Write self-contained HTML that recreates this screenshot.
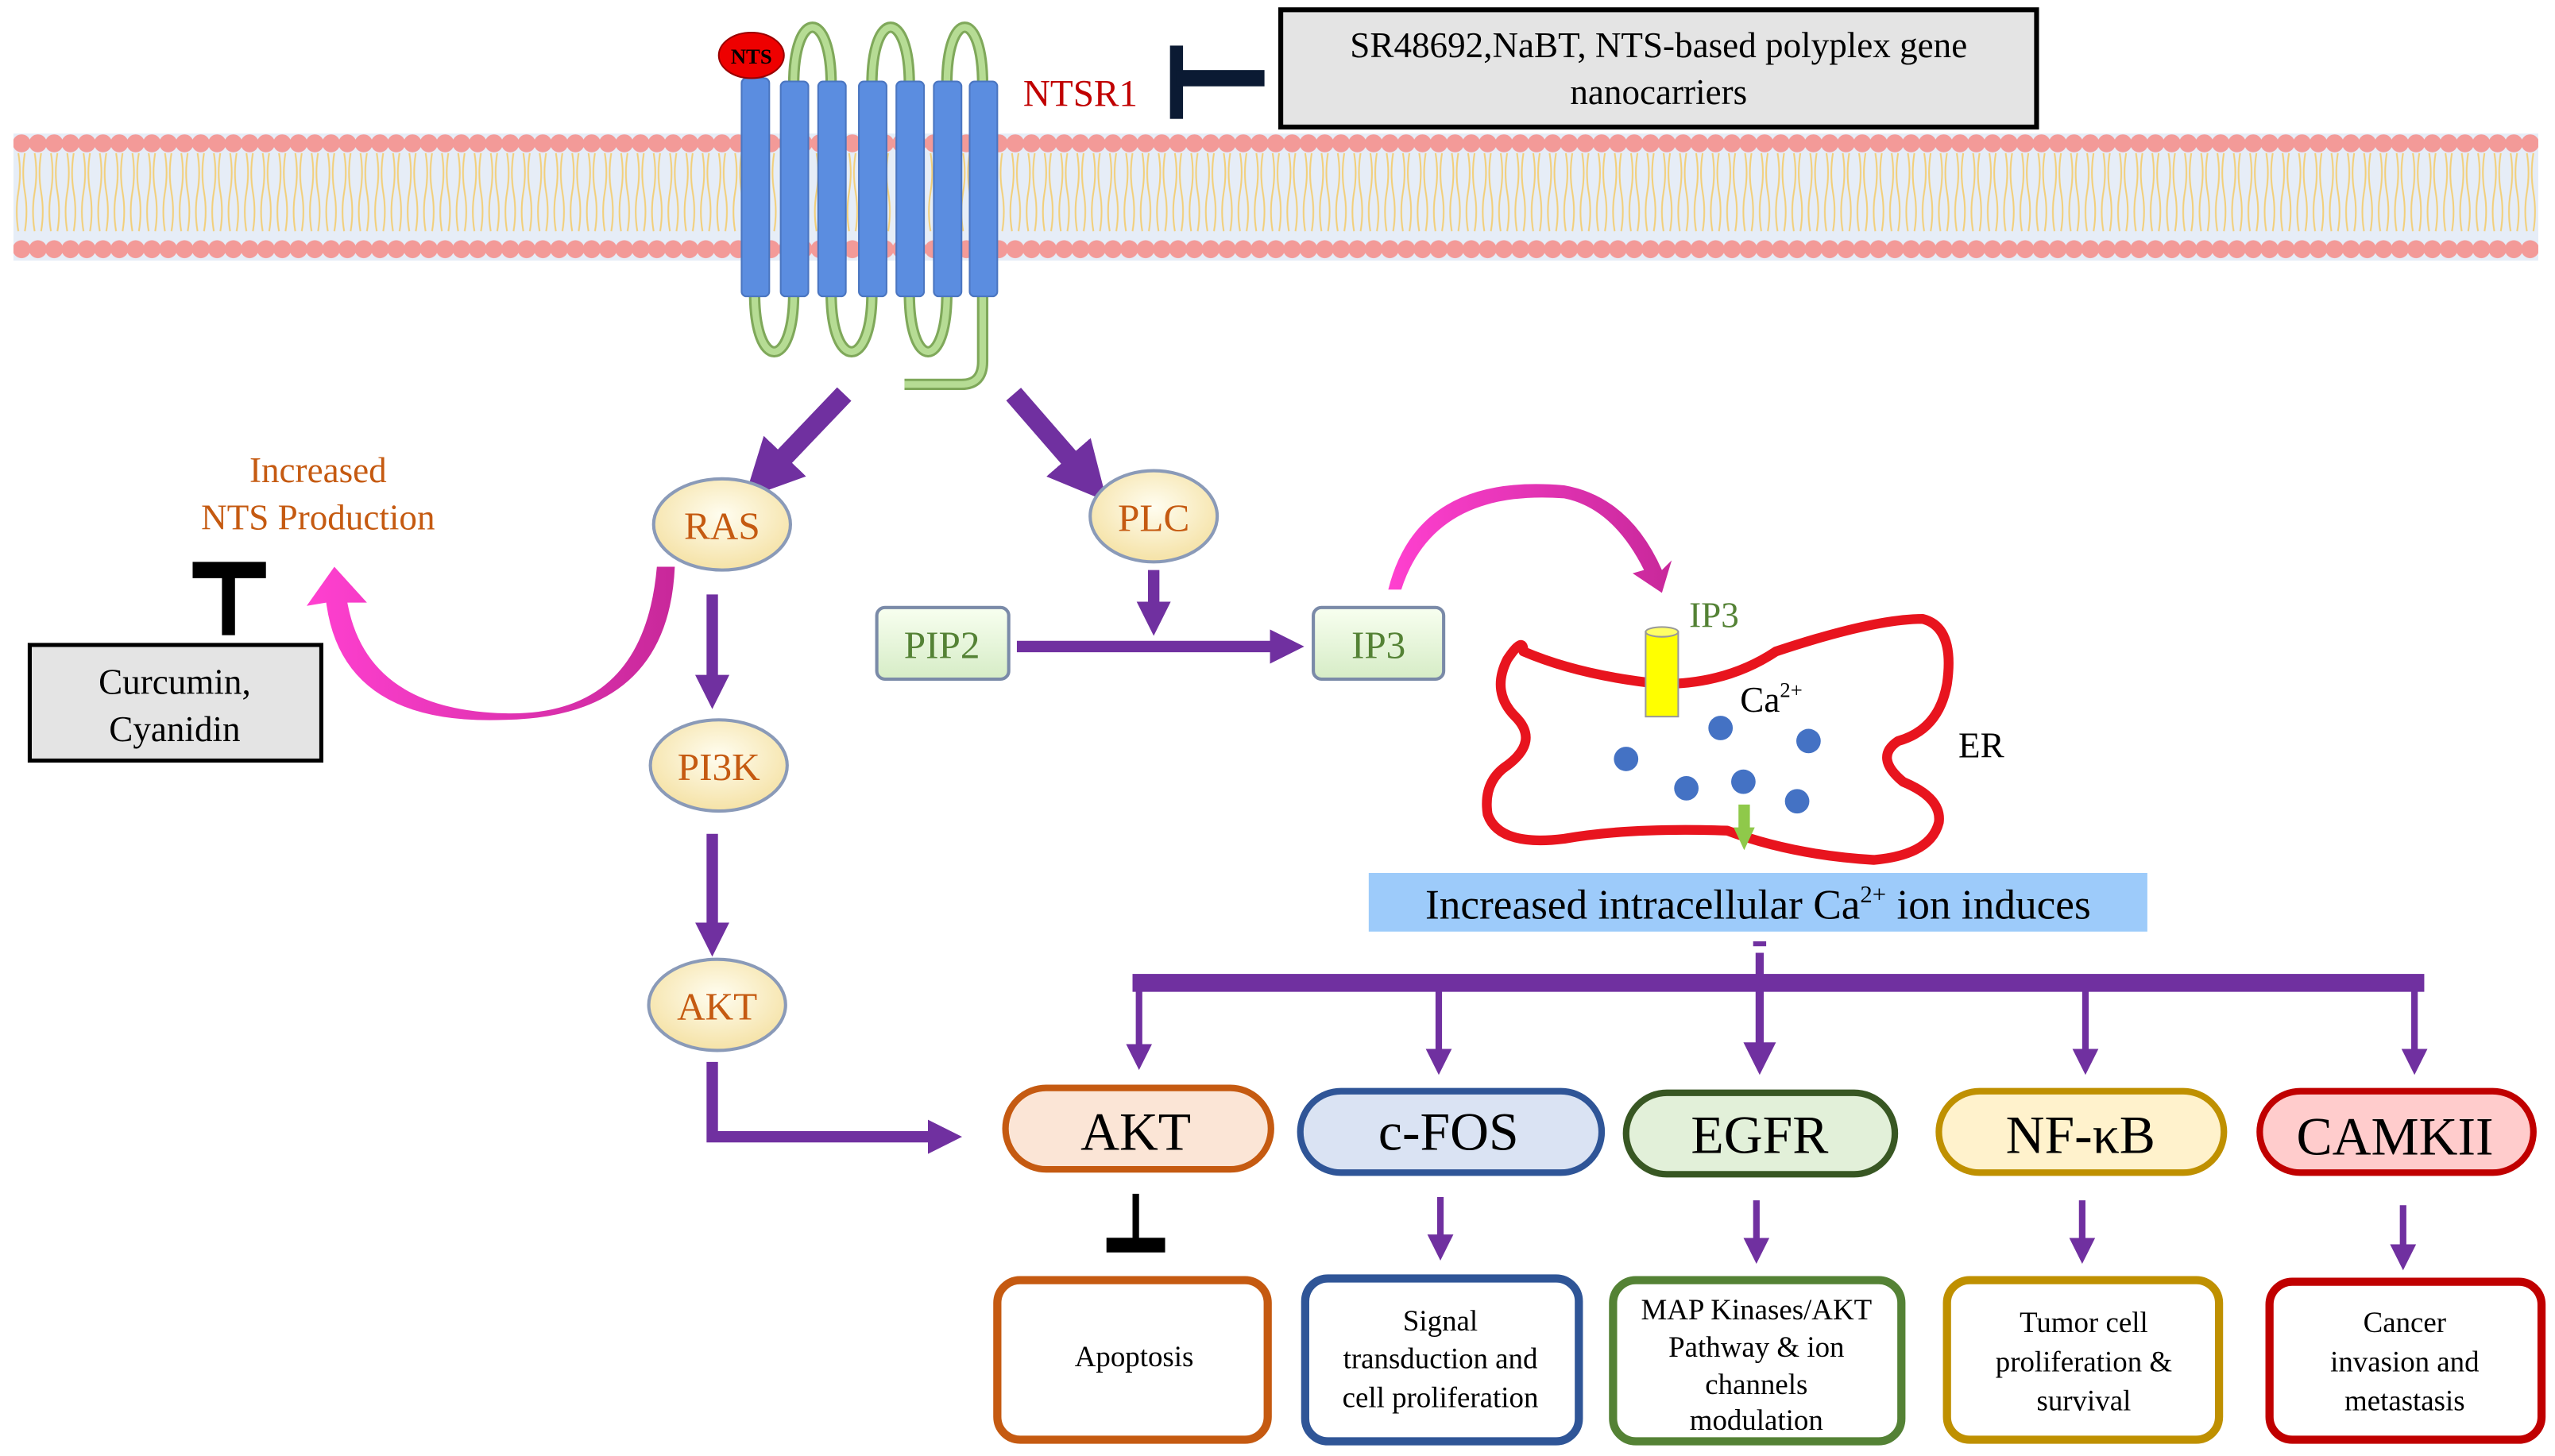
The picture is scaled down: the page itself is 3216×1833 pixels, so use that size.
<!DOCTYPE html>
<html><head><meta charset="utf-8"><style>html,body{margin:0;padding:0;background:#fff}svg{display:block}</style></head><body>
<svg width="3216" height="1833" viewBox="0 0 1568 894" xmlns="http://www.w3.org/2000/svg" font-family="Liberation Serif, serif">
<defs>
<pattern id="heads" x="8" y="0" width="10" height="894" patternUnits="userSpaceOnUse">
<circle cx="5" cy="88" r="5.5" fill="#f39a98"/><circle cx="5" cy="153" r="5.5" fill="#f39a98"/>
<path d="M3 94 q2 12 0 24 q-2 12 0 24 M7 94 q-2 12 0 24 q2 12 0 24" stroke="#f2cf7a" stroke-width="1" fill="none"/>
</pattern>
<radialGradient id="cream" cx="50%" cy="40%" r="60%"><stop offset="0" stop-color="#fffdf0"/><stop offset="1" stop-color="#f5e2a6"/></radialGradient>
<linearGradient id="gbox" x1="0" y1="0" x2="0" y2="1"><stop offset="0" stop-color="#f8fff0"/><stop offset="1" stop-color="#d6ecc6"/></linearGradient>
<linearGradient id="pink" x1="0" y1="0" x2="1" y2="0"><stop offset="0" stop-color="#ff40d0"/><stop offset="1" stop-color="#c8289a"/></linearGradient>
<marker id="ah2" markerWidth="3" markerHeight="3" refX="0.8" refY="1.5" orient="auto"><path d="M0,0 L3,1.5 L0,3 z" fill="#7030a0"/></marker>
<marker id="ah3" markerWidth="4" markerHeight="4" refX="1" refY="2" orient="auto"><path d="M0,0 L4,2 L0,4 z" fill="#7030a0"/></marker>
</defs>
<rect x="8" y="82" width="1550" height="78" fill="#e6edf7"/>
<rect x="8" y="82" width="1550" height="78" fill="url(#heads)"/>
<g fill="none" stroke="#7fa85a" stroke-width="7">
<path d="M487 52 C487 5 510 5 510 52"/><path d="M535 52 C535 5 558 5 558 52"/><path d="M581 52 C581 5 603 5 603 52"/>
<path d="M463 180 C463 228 487 228 487 180"/><path d="M510 180 C510 228 535 228 535 180"/><path d="M558 180 C558 228 581 228 581 180"/>
<path d="M603 180 L603 222 Q603 236 590 236 L555 236"/>
</g>
<g fill="none" stroke="#b6dc94" stroke-width="4">
<path d="M487 52 C487 5 510 5 510 52"/><path d="M535 52 C535 5 558 5 558 52"/><path d="M581 52 C581 5 603 5 603 52"/>
<path d="M463 180 C463 228 487 228 487 180"/><path d="M510 180 C510 228 535 228 535 180"/><path d="M558 180 C558 228 581 228 581 180"/>
<path d="M603 180 L603 222 Q603 236 590 236 L555 236"/>
</g>
<g fill="#5b8de0" stroke="#4a75c0" stroke-width="1">
<rect x="455" y="48" width="17" height="134" rx="3"/><rect x="479" y="50" width="17" height="132" rx="3"/><rect x="502" y="50" width="17" height="132" rx="3"/><rect x="527" y="50" width="17" height="132" rx="3"/><rect x="550" y="50" width="17" height="132" rx="3"/><rect x="573" y="50" width="17" height="132" rx="3"/><rect x="595" y="50" width="17" height="132" rx="3"/>
</g>
<ellipse cx="461" cy="34" rx="20" ry="14" fill="#e00" stroke="#900"/>
<text x="461" y="39" font-size="13" text-anchor="middle" font-weight="bold">NTS</text>
<text x="663" y="65" font-size="23" fill="#c00000" text-anchor="middle">NTSR1</text>
<rect x="718" y="28" width="8" height="45" fill="#0b1a33"/><rect x="722" y="43" width="54" height="10" fill="#0b1a33"/>
<rect x="786" y="6" width="464" height="72" fill="#e4e4e4" stroke="#000" stroke-width="3"/>
<text x="1018" y="35" font-size="22" text-anchor="middle">SR48692,NaBT, NTS-based polyplex gene</text>
<text x="1018" y="64" font-size="22" text-anchor="middle">nanocarriers</text>
<g stroke="#7030a0" fill="none">
<path d="M518 242 L475 287" stroke-width="12" marker-end="url(#ah2)"/>
<path d="M622 242 L662 288" stroke-width="12" marker-end="url(#ah2)"/>
<path d="M437 365 L437 420" stroke-width="7" marker-end="url(#ah2)"/>
<path d="M437 512 L437 572" stroke-width="7" marker-end="url(#ah2)"/>
<path d="M437 652 L437 698 L575 698" stroke-width="7" marker-end="url(#ah2)"/>
<path d="M708 350 L708 375" stroke-width="7" marker-end="url(#ah2)"/>
<path d="M624 397 L785 397" stroke-width="7" marker-end="url(#ah2)"/>
</g>
<g fill="url(#cream)" stroke="#8a9ab8" stroke-width="2">
<ellipse cx="443" cy="322" rx="42" ry="28"/><ellipse cx="708" cy="317" rx="39" ry="28"/><ellipse cx="441" cy="470" rx="42" ry="28"/><ellipse cx="440" cy="617" rx="42" ry="28"/>
</g>
<g font-size="24" fill="#c55a11" text-anchor="middle">
<text x="443" y="331">RAS</text><text x="708" y="326">PLC</text><text x="441" y="479">PI3K</text><text x="440" y="626">AKT</text>
</g>
<text x="195" y="296" font-size="22" fill="#c55a11" text-anchor="middle">Increased</text>
<text x="195" y="325" font-size="22" fill="#c55a11" text-anchor="middle">NTS Production</text>
<rect x="118" y="345" width="45" height="10" fill="#000"/><rect x="136" y="350" width="8" height="40" fill="#000"/>
<rect x="18" y="396" width="179" height="71" fill="#e4e4e4" stroke="#000" stroke-width="2.5"/>
<text x="107" y="426" font-size="22" text-anchor="middle">Curcumin,</text>
<text x="107" y="455" font-size="22" text-anchor="middle">Cyanidin</text>
<path d="M403 348 Q395 440 310 438 Q225 436 213 370 L225 370 L205 348 L188 372 L200 370 Q210 446 310 442 Q410 440 414 348 Z" fill="url(#pink)"/>
<rect x="538" y="373" width="81" height="44" rx="5" fill="url(#gbox)" stroke="#7a8aa8" stroke-width="2"/>
<text x="578" y="404" font-size="24" fill="#548235" text-anchor="middle">PIP2</text>
<rect x="806" y="373" width="80" height="44" rx="5" fill="url(#gbox)" stroke="#7a8aa8" stroke-width="2"/>
<text x="846" y="404" font-size="24" fill="#548235" text-anchor="middle">IP3</text>
<path d="M852 362 Q870 290 960 298 Q1000 305 1020 350 L1026 344 L1020 364 L1002 352 L1009 350 Q990 312 960 306 Q880 300 860 362 Z" fill="url(#pink)"/>
<path d="M935 400 Q970 415 1020 420 Q1060 420 1090 400 Q1150 380 1180 380 Q1200 385 1195 420 Q1190 448 1165 455 Q1150 465 1168 480 Q1192 490 1190 505 Q1185 525 1150 528 Q1100 525 1060 510 Q1000 508 960 515 Q920 520 913 500 Q910 480 925 470 Q945 455 930 440 Q915 425 925 405 Q935 390 935 400 Z" fill="none" stroke="#e8141e" stroke-width="6" stroke-linejoin="round"/>
<rect x="1010" y="388" width="20" height="52" fill="#ffff00" stroke="#999" stroke-width="1"/>
<ellipse cx="1020" cy="388" rx="10" ry="3" fill="#ffff66" stroke="#999" stroke-width="1"/>
<text x="1052" y="385" font-size="22" fill="#548235" text-anchor="middle">IP3</text>
<text x="1068" y="437" font-size="22">Ca<tspan font-size="13" dy="-9">2+</tspan></text>
<text x="1202" y="465" font-size="22">ER</text>
<g fill="#4472c4"><circle cx="1056" cy="447" r="7.5"/><circle cx="1110" cy="455" r="7.5"/><circle cx="998" cy="466" r="7.5"/><circle cx="1035" cy="484" r="7.5"/><circle cx="1070" cy="480" r="7.5"/><circle cx="1103" cy="492" r="7.5"/></g>
<rect x="1067" y="494" width="7" height="17" fill="#8fc94a"/><path d="M1064 508 L1077 508 L1070.5 522 Z" fill="#8fc94a"/>
<rect x="840" y="536" width="478" height="36" fill="#9dcbfa"/>
<text x="1079" y="564" font-size="26" text-anchor="middle">Increased intracellular Ca<tspan font-size="15" dy="-10">2+</tspan><tspan dy="10"> ion induces</tspan></text>
<rect x="1076" y="578" width="8" height="3" fill="#7030a0"/>
<g stroke="#7030a0" fill="none" stroke-width="5">
<path d="M1080 585 L1080 645" marker-end="url(#ah3)"/>
</g>
<rect x="695" y="598" width="793" height="11" fill="#7030a0"/>
<g stroke="#7030a0" fill="none" stroke-width="4">
<path d="M699 604 L699 645" marker-end="url(#ah3)"/><path d="M883 604 L883 648" marker-end="url(#ah3)"/><path d="M1280 604 L1280 648" marker-end="url(#ah3)"/><path d="M1482 604 L1482 648" marker-end="url(#ah3)"/>
<path d="M884 735 L884 762" marker-end="url(#ah3)"/><path d="M1078 737 L1078 764" marker-end="url(#ah3)"/><path d="M1278 737 L1278 764" marker-end="url(#ah3)"/><path d="M1475 740 L1475 768" marker-end="url(#ah3)"/>
</g>
<rect x="695" y="733" width="4" height="32" fill="#000"/><rect x="679" y="760" width="36" height="9" fill="#000"/>
<g stroke-width="4">
<rect x="617" y="668" width="163" height="50" rx="25" fill="#fbe5d6" stroke="#c55a11"/>
<rect x="798" y="670" width="185" height="50" rx="25" fill="#dae3f3" stroke="#2f5597"/>
<rect x="998" y="671" width="165" height="50" rx="25" fill="#e2f0d9" stroke="#385723"/>
<rect x="1190" y="670" width="175" height="50" rx="25" fill="#fff2cc" stroke="#bf9000"/>
<rect x="1387" y="670" width="168" height="50" rx="25" fill="#ffcccc" stroke="#c00000"/>
</g>
<g font-size="33" text-anchor="middle">
<text x="697" y="706">AKT</text><text x="889" y="706">c-FOS</text><text x="1080" y="708">EGFR</text><text x="1277" y="708">NF-κB</text><text x="1470" y="709">CAMKII</text>
</g>
<g fill="#fff" stroke-width="5">
<rect x="612" y="786" width="166" height="98" rx="14" stroke="#c55a11"/>
<rect x="801" y="785" width="168" height="100" rx="14" stroke="#2f5597"/>
<rect x="990" y="786" width="177" height="99" rx="14" stroke="#548235"/>
<rect x="1195" y="786" width="167" height="98" rx="14" stroke="#bf9000"/>
<rect x="1393" y="787" width="167" height="97" rx="14" stroke="#c00000"/>
</g>
<g font-size="18" text-anchor="middle">
<text x="696" y="839">Apoptosis</text>
<text x="884" y="817">Signal</text><text x="884" y="840">transduction and</text><text x="884" y="864">cell proliferation</text>
<text x="1078" y="810">MAP Kinases/AKT</text><text x="1078" y="833">Pathway &amp; ion</text><text x="1078" y="856">channels</text><text x="1078" y="878">modulation</text>
<text x="1279" y="818">Tumor cell</text><text x="1279" y="842">proliferation &amp;</text><text x="1279" y="866">survival</text>
<text x="1476" y="818">Cancer</text><text x="1476" y="842">invasion and</text><text x="1476" y="866">metastasis</text>
</g>
</svg>
</body></html>
